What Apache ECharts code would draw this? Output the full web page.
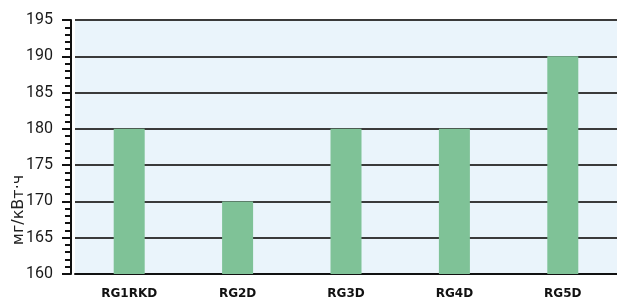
<!DOCTYPE html>
<html>
<head>
<meta charset="utf-8">
<script src="https://cdn.jsdelivr.net/npm/echarts@6/dist/echarts.min.js"></script>
<style>
  html, body { margin: 0; padding: 0; background: #fff; }
  #main { width: 617px; height: 302px; }
</style>
</head>
<body>
<div id="main"></div>
<script>
var chart = echarts.init(document.getElementById('main')); // init

var models = ['RG1RKD', 'RG2D', 'RG3D', 'RG4D', 'RG5D'];
var emissions = [180, 170, 180, 180, 190]; // мг/кВт·ч
var unitName = 'мг/кВт·ч';

var option = {
    animation: false,
    grid: {
        left: 75,
        right: -5,
        top: 20,
        bottom: 28,
        show: true,
        backgroundColor: '#eaf4fb',
        borderWidth: 0
    },
    graphic: [{
        type: 'text',
        x: 19,
        y: 210,
        rotation: Math.PI / 2,
        style: {
            text: unitName,
            align: 'center',
            verticalAlign: 'middle',
            font: '16px "DejaVu Sans", sans-serif',
            fill: '#222'
        }
    }],
    xAxis: {
        type: 'category',
        data: models,
        axisLine: { lineStyle: { color: '#111', width: 2 } },
        axisTick: { show: false },
        axisLabel: {
            color: '#111',
            fontWeight: 'bold',
            fontSize: 12,
            fontFamily: '"DejaVu Sans", sans-serif',
            margin: 14
        }
    },
    yAxis: {
        type: 'value',
        min: 160,
        max: 195,
        interval: 5,
        offset: 4,
        axisLine: { show: true, lineStyle: { color: '#111', width: 2 } },
        axisTick: { show: true, length: 9, lineStyle: { color: '#111', width: 2 } },
        minorTick: { show: true, splitNumber: 5, length: 6, lineStyle: { color: '#111', width: 2 } },
        axisLabel: {
            color: '#1a1a1a',
            fontSize: 16,
            fontFamily: '"Liberation Sans Narrow", "Roboto", sans-serif',
            margin: 18
        },
        splitLine: { lineStyle: { color: '#3a3a3a', width: 2 } }
    },
    series: [{
        type: 'bar',
        data: emissions,
        barWidth: 31,
        itemStyle: { color: '#7fc297' },
        z: 3
    }]
};

chart.setOption(option);
</script>
</body>
</html>
